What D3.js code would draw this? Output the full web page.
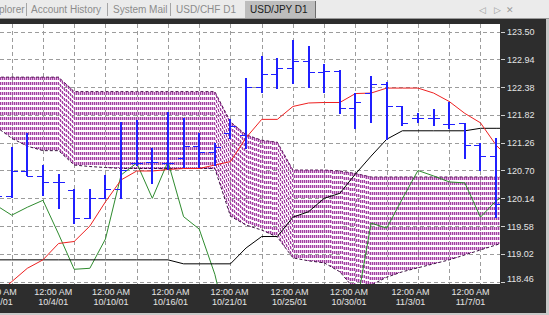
<!DOCTYPE html>
<html>
<head>
<meta charset="UTF-8">
<style>
  *{margin:0;padding:0;}
  body{background:#2d2d2d;width:549px;height:315px;overflow:hidden;}
  svg{display:block;}
  text{font-family:"Liberation Sans",Arial,sans-serif;}
</style>
<script src="https://d3js.org/d3.v7.min.js"></script>
<title>USD/JPY D1</title>
</head>
<body>
<svg id="chart" width="549" height="315"></svg>
<script>
// daily bars, index 0..32 (bar 0 sits just left of the window)
var opens  = [120.50,120.19,120.69,120.59,120.47,120.31,119.75,120.15,120.33,120.85,120.88,120.85,120.95,121.20,121.07,121.45,121.42,122.39,122.64,122.76,122.91,122.69,122.70,121.95,122.26,122.44,121.99,121.75,121.75,121.64,121.65,121.21,121.00];
var highs  = [120.75,121.18,121.46,120.81,120.63,120.33,120.33,120.61,121.68,121.72,121.15,121.87,121.76,121.45,121.25,121.74,122.56,123.01,122.96,123.33,123.21,122.84,122.72,122.26,122.60,122.49,121.99,121.86,121.93,122.07,121.65,121.25,121.35];
var lows   = [120.05,120.17,120.61,120.21,119.94,119.64,119.74,120.15,120.15,120.81,120.44,120.74,120.78,120.78,120.81,121.35,121.15,122.29,122.36,122.46,122.39,122.29,121.85,121.55,121.68,121.33,121.62,121.68,121.62,121.55,120.96,120.71,119.77];
var closes = [120.19,120.69,120.59,120.47,120.47,119.75,120.14,120.33,120.70,120.86,120.88,120.85,121.20,121.07,121.18,121.60,122.39,122.64,122.76,122.91,122.69,122.70,121.95,122.07,122.44,121.99,121.66,121.75,121.75,121.64,121.21,121.00,120.03];

// ichimoku lines, index 0..33
var tenkan = [118.19,118.46,118.73,118.90,119.23,119.27,119.58,120.07,120.51,120.69,120.69,120.72,120.74,120.74,120.81,120.88,121.36,121.73,121.73,121.99,122.06,122.07,122.07,122.25,122.26,122.36,122.36,122.36,122.26,122.09,121.85,121.66,121.21,120.90];
var kijun  = [118.90,118.90,118.90,118.90,118.90,118.90,118.90,118.90,118.90,118.90,118.90,118.90,118.82,118.82,118.82,118.82,119.14,119.37,119.37,119.76,119.87,120.14,120.24,120.63,120.99,121.33,121.50,121.50,121.50,121.50,121.50,121.55,121.55,121.55];
var chikou = [120.00,119.80,119.96,120.10,119.42,118.71,118.73,119.32,120.61,120.85,120.14,120.88,119.77,119.52,118.61,117.30,116.90,117.10,116.80,117.00,117.30,117.20,117.50,117.84,119.64,119.54,120.13,120.70,120.59,120.47,120.45,119.76,120.09,120.30];
var spanB  = [122.58,122.58,122.58,122.58,122.58,122.29,122.29,122.29,122.29,122.29,122.29,122.29,122.29,122.29,122.29,121.68,121.42,121.31,121.27,120.71,120.71,120.71,120.69,120.64,120.57,120.57,120.57,120.57,120.57,120.57,120.57,120.57,120.57,120.57];
var spanA  = [121.58,121.35,121.19,121.10,121.10,120.81,120.78,120.76,120.74,120.74,120.74,120.74,120.74,120.74,120.74,119.78,119.60,119.50,119.36,118.94,118.88,118.84,118.66,118.29,118.39,118.55,118.66,118.74,118.82,118.90,119.00,119.10,119.20,119.30];

var priceTicks = [123.50,122.94,122.38,121.82,121.26,120.70,120.14,119.58,119.02,118.46];
var dateTicks  = ["10/1/01","10/4/01","10/10/01","10/16/01","10/21/01","10/25/01","10/30/01","11/3/01","11/7/01"];
var dateTickBars = [0.1,3.66,7.36,11.16,14.94,18.78,22.59,26.52,30.36];

var tabs = ["plorer","Account History","System Mail","USD/CHF D1"];

var svg = d3.select("#chart");
var W = 549, H = 315;
var pl = {left: 0, right: 500, top: 24, bottom: 284};

var x = d3.scaleLinear().domain([1, 32]).range([11.7, 496.1]);
var y = d3.scaleLinear().domain([118.46, 123.50]).range([281.7, 31.5]);
var px = function(i) { return Math.round(x(i)) + 0.5; };
var py = function(v) { return Math.round(y(v)) + 0.5; };

// frame
svg.append("rect").attr("width", W).attr("height", H).attr("fill", "#2d2d2d");
svg.append("rect").attr("x", W - 3).attr("width", 3).attr("height", H).attr("fill", "#c9c9c9");
svg.append("rect").attr("y", H - 2).attr("width", W).attr("height", 2).attr("fill", "#c9c9c9");

// tab strip
svg.append("rect").attr("width", W).attr("height", 18).attr("fill", "#ebebeb");
svg.append("rect").attr("y", 18).attr("width", W).attr("height", 1).attr("fill", "#9a9a9a");
svg.append("rect").attr("x", 245).attr("y", 1).attr("width", 70).attr("height", 17).attr("fill", "#bdbdbd");
svg.append("line").attr("x1", 315.5).attr("x2", 315.5).attr("y1", 1).attr("y2", 18).attr("stroke", "#6d6d6d");

var tabX = [-1, 31, 113, 176];
var sepX = [26, 107, 170];
svg.selectAll(".tab").data(tabs).join("text")
    .attr("class", "tab")
    .attr("x", function(d, i) { return tabX[i]; })
    .attr("y", 13)
    .attr("font-size", "10px")
    .attr("fill", "#8c8c8c")
    .text(function(d) { return d; });
svg.selectAll(".sep").data(sepX).join("line")
    .attr("class", "sep")
    .attr("x1", function(d) { return d + 0.5; }).attr("x2", function(d) { return d + 0.5; })
    .attr("y1", 3).attr("y2", 16)
    .attr("stroke", "#a5a5a5");
svg.append("text").attr("x", 250).attr("y", 13).attr("font-size", "10px")
    .attr("fill", "#1a1a1a").text("USD/JPY D1");
svg.selectAll(".nav").data(["\u25C1", "\u25B7", "\u2715"]).join("text")
    .attr("class", "nav")
    .attr("x", function(d, i) { return [479, 494, 506][i]; })
    .attr("y", 13).attr("font-size", "9px")
    .attr("fill", "#9a9a9a").text(function(d) { return d; });

// plot area
svg.append("rect").attr("x", pl.left).attr("y", pl.top)
    .attr("width", pl.right - pl.left).attr("height", pl.bottom - pl.top)
    .attr("fill", "#ffffff");

svg.append("clipPath").attr("id", "clip").append("rect")
    .attr("x", pl.left).attr("y", pl.top)
    .attr("width", pl.right - pl.left).attr("height", pl.bottom - pl.top);

var g = svg.append("g").attr("clip-path", "url(#clip)");

// grid
g.selectAll(".hgrid").data(priceTicks).join("line")
    .attr("class", "hgrid")
    .attr("x1", pl.left).attr("x2", pl.right)
    .attr("y1", function(d) { return py(d); }).attr("y2", function(d) { return py(d); })
    .attr("stroke", "#9c9c9c").attr("stroke-dasharray", "4,3");
g.selectAll(".vgrid").data(d3.range(1, 33, 2)).join("line")
    .attr("class", "vgrid")
    .attr("x1", function(d) { return px(d); }).attr("x2", function(d) { return px(d); })
    .attr("y1", pl.top).attr("y2", pl.bottom)
    .attr("stroke", "#9c9c9c").attr("stroke-dasharray", "4,3");

// kumo, hatched column by column (dots start at the upper span)
var n = spanA.length;
var cols = [];
for (var c = pl.left; c < pl.right; c++) {
    var t = x.invert(c + 0.5), i0 = Math.floor(t), f = t - i0;
    if (i0 < 0 || i0 >= n - 1) continue;
    var a = spanA[i0] + (spanA[i0 + 1] - spanA[i0]) * f;
    var b = spanB[i0] + (spanB[i0 + 1] - spanB[i0]) * f;
    cols.push({c: c, top: y(Math.max(a, b)), bot: y(Math.min(a, b))});
}
g.append("g").selectAll("line").data(cols).join("line")
    .attr("x1", function(d) { return d.c + 0.5; }).attr("x2", function(d) { return d.c + 0.5; })
    .attr("y1", function(d) { return Math.round(d.top); })
    .attr("y2", function(d) { return Math.round(d.bot); })
    .attr("stroke", function(d) { return d.c % 2 ? "#dfb6df" : "#a140a1"; })
    .attr("stroke-dasharray", "3,2");

function series(vals, color, dash) {
    var line = d3.line()
        .x(function(d, i) { return x(i); })
        .y(function(d) { return y(d); });
    g.append("path").datum(vals)
        .attr("d", line)
        .attr("fill", "none")
        .attr("stroke", color)
        .attr("stroke-width", 1)
        .attr("stroke-dasharray", dash || null);
}
series(spanA, "#3a1040", "3,2");
series(spanB, "#5a1a5a", "3,2");
series(chikou, "#2e8b2e");
series(kijun, "#000000");
series(tenkan, "#ee2020");

// OHLC bars
var bars = g.append("g").attr("stroke", "#2020ff");
opens.forEach(function(o, i) {
    var cx = Math.round(x(i));
    bars.append("line").attr("x1", cx).attr("x2", cx)
        .attr("y1", Math.round(y(highs[i]))).attr("y2", Math.round(y(lows[i])) + 1)
        .attr("stroke-width", 2);
    bars.append("line").attr("x1", cx - 6).attr("x2", cx)
        .attr("y1", py(o)).attr("y2", py(o)).attr("stroke-width", 1);
    bars.append("line").attr("x1", cx).attr("x2", cx + 6)
        .attr("y1", py(closes[i])).attr("y2", py(closes[i])).attr("stroke-width", 1);
});

// price axis
svg.selectAll(".ptick").data(priceTicks).join("line")
    .attr("class", "ptick")
    .attr("x1", 501).attr("x2", 505)
    .attr("y1", function(d) { return py(d); }).attr("y2", function(d) { return py(d); })
    .attr("stroke", "#cfcfcf");
svg.selectAll(".plabel").data(priceTicks).join("text")
    .attr("class", "plabel")
    .attr("x", 507)
    .attr("y", function(d) { return Math.min(y(d) + 3.5, 282); })
    .attr("font-size", "9px")
    .attr("fill", "#e4e4e4")
    .text(function(d) { return d.toFixed(2); });

// time axis
var tl = svg.selectAll(".tlabel").data(dateTicks).join("g")
    .attr("class", "tlabel")
    .attr("transform", function(d, i) { return "translate(" + x(dateTickBars[i]) + ",0)"; })
    .attr("text-anchor", "middle")
    .attr("font-size", "9px")
    .attr("fill", "#e4e4e4");
tl.append("text").attr("y", 295).text("12:00 AM");
tl.append("text").attr("y", 305).text(function(d) { return d; });
</script>
</body>
</html>
